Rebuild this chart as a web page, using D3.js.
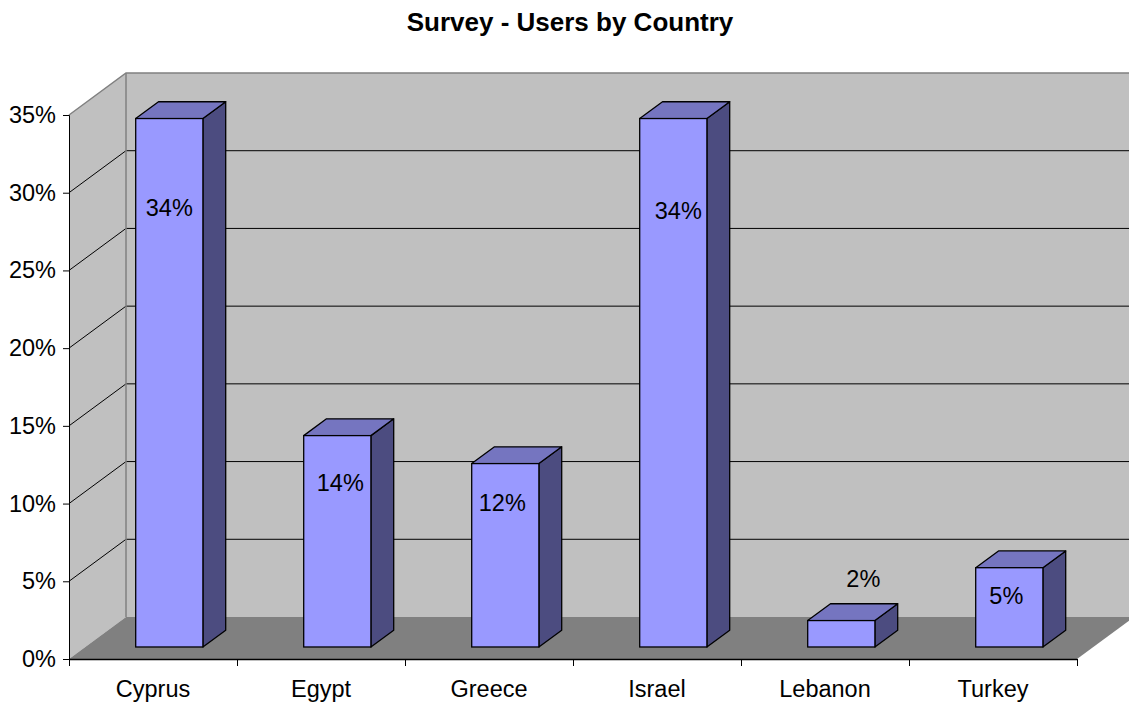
<!DOCTYPE html>
<html>
<head>
<meta charset="utf-8">
<script src="https://cdn.jsdelivr.net/npm/d3@7"></script>
<style>
  html, body { margin: 0; padding: 0; background: #fff; }
  svg { display: block; font-family: "Liberation Sans", Arial, sans-serif; }
</style>
</head>
<body>
<svg id="chart" width="1129" height="702"></svg>
<script>
// ---- data ----
const categories = ["Cyprus", "Egypt", "Greece", "Israel", "Lebanon", "Turkey"];
const values = [34, 13.6, 11.8, 34, 1.7, 5.1];          // percent
const yTicks = [0, 5, 10, 15, 20, 25, 30, 35];
const title = "Survey - Users by Country";

// ---- layout (label placement as in the original, relative to bar top) ----
const labelDx = [0, 3, -3, 5, 22, -3];
const labelDy = [89, 47, 39, 92, -42, 28];

const plotL = 69, plotR = 1077, plotB = 659, plotT = 115;
const DX = 57, DY = 42;          // depth offset of the 3D box
const f0 = 0.286, f1 = 0.686;    // bar depth range (fraction)
const FS = 23.5;

const svg = d3.select("#chart");

const x = d3.scaleBand().domain(categories).range([plotL, plotR])
  .paddingInner(0.6).paddingOuter(0.3);
const y = d3.scaleLinear().domain([0, 35]).range([plotB, plotT]);

// walls
const g = svg.append("g");
g.append("polygon")
  .attr("points", [[plotL + DX, y(35) - DY], [plotR + DX, y(35) - DY], [plotR + DX, y(0) - DY], [plotL + DX, y(0) - DY]].join(" "))
  .attr("fill", "#c0c0c0");
g.append("polygon")
  .attr("points", [[plotL, y(35)], [plotL + DX, y(35) - DY], [plotL + DX, y(0) - DY], [plotL, y(0)]].join(" "))
  .attr("fill", "#c0c0c0");
g.append("polygon")
  .attr("points", [[plotL, y(0)], [plotL + DX, y(0) - DY], [plotR + DX, y(0) - DY], [plotR, y(0)]].join(" "))
  .attr("fill", "#808080");

// gridlines
const inner = yTicks.filter(t => t > 0 && t < 35);
g.selectAll("line.gb").data(inner).join("line")
  .attr("x1", plotL + DX).attr("x2", plotR + DX)
  .attr("y1", d => y(d) - DY).attr("y2", d => y(d) - DY)
  .attr("stroke", "#000").attr("stroke-width", 1);
g.selectAll("line.gl").data(inner).join("line")
  .attr("x1", plotL).attr("x2", plotL + DX)
  .attr("y1", d => y(d)).attr("y2", d => y(d) - DY)
  .attr("stroke", "#000").attr("stroke-width", 1);

// wall borders
g.append("polyline")
  .attr("points", [[plotL, y(35)], [plotL + DX, y(35) - DY], [plotR + DX, y(35) - DY]].join(" "))
  .attr("fill", "none").attr("stroke", "#808080").attr("stroke-width", 1.5);
g.append("line")
  .attr("x1", plotL + DX).attr("x2", plotL + DX)
  .attr("y1", y(35) - DY).attr("y2", y(0) - DY)
  .attr("stroke", "#808080").attr("stroke-width", 1.5);

// axes
const yAxis = d3.axisLeft(y).tickValues(yTicks).tickFormat(d => d + "%").tickSize(6).tickPadding(7);
const ya = svg.append("g").attr("transform", `translate(${plotL},0)`).call(yAxis);
ya.select(".domain").attr("stroke", "#000");
ya.selectAll("text").attr("font-size", FS).attr("fill", "#000")
  .attr("font-family", '"Liberation Sans", Arial, sans-serif');

const xb = d3.scaleLinear().domain([0, categories.length]).range([plotL, plotR]);
const xa = svg.append("g").attr("transform", `translate(0,${plotB})`)
  .call(d3.axisBottom(xb).tickValues(d3.range(categories.length + 1)).tickFormat("").tickSize(7).tickSizeOuter(0));
xa.select(".domain").attr("stroke", "#000").attr("stroke-width", 1.5);

svg.append("g").selectAll("text").data(categories).join("text")
  .attr("x", d => x(d) + x.bandwidth() / 2)
  .attr("y", 697)
  .attr("text-anchor", "middle")
  .attr("font-size", FS)
  .text(d => d);

// bars
const bw = x.bandwidth();
const ox = DX * f0, oy = DY * f0;
const bdx = DX * (f1 - f0), bdy = DY * (f1 - f0);
const bars = svg.append("g").selectAll("g").data(categories).join("g");
bars.each(function (c, i) {
  const gg = d3.select(this);
  const x0 = x(c) + ox, x1 = x0 + bw;
  const yb = y(0) - oy, yt = y(values[i]) - oy;
  gg.append("polygon")
    .attr("points", [[x1, yt], [x1 + bdx, yt - bdy], [x1 + bdx, yb - bdy], [x1, yb]].join(" "))
    .attr("fill", "#4c4c80").attr("stroke", "#000").attr("stroke-width", 1.3).attr("stroke-linejoin", "round");
  gg.append("polygon")
    .attr("points", [[x0, yt], [x0 + bdx, yt - bdy], [x1 + bdx, yt - bdy], [x1, yt]].join(" "))
    .attr("fill", "#7575c0").attr("stroke", "#000").attr("stroke-width", 1.3).attr("stroke-linejoin", "round");
  gg.append("rect")
    .attr("x", x0).attr("y", yt).attr("width", bw).attr("height", yb - yt)
    .attr("fill", "#9999ff").attr("stroke", "#000").attr("stroke-width", 1.3);
  gg.append("text")
    .attr("x", x0 + bw / 2 + labelDx[i])
    .attr("y", yt + labelDy[i])
    .attr("dy", "0.35em")
    .attr("text-anchor", "middle")
    .attr("font-size", FS)
    .text(d3.format(".0f")(values[i]) + "%");
});

// title
svg.append("text")
  .attr("x", 570).attr("y", 31)
  .attr("text-anchor", "middle")
  .attr("font-size", 26).attr("font-weight", "bold")
  .text(title);
</script>
</body>
</html>
